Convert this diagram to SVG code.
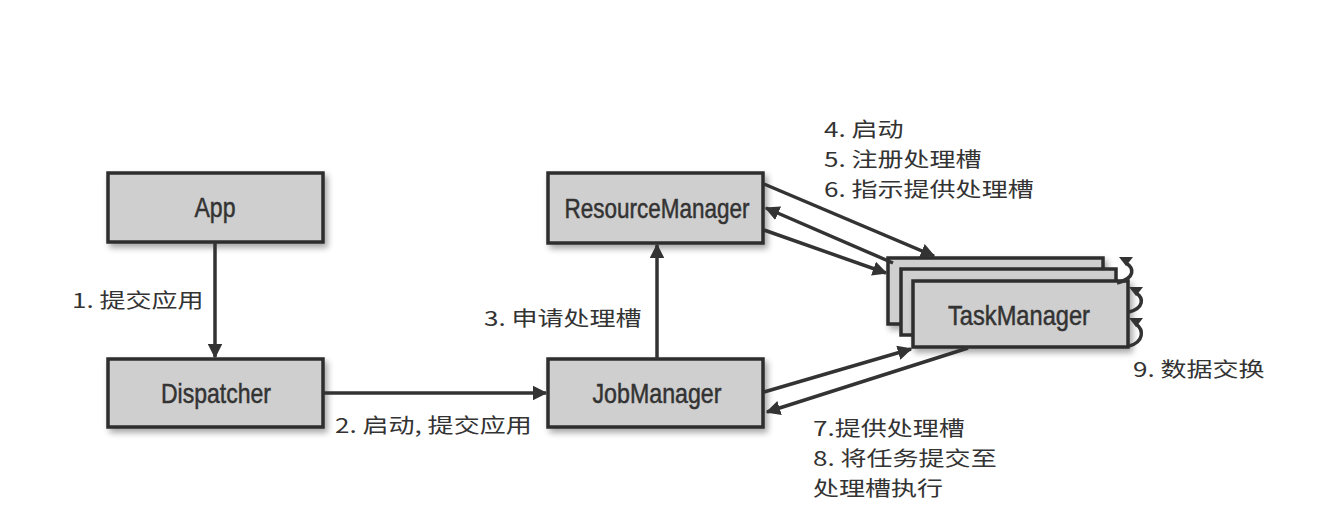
<svg xmlns="http://www.w3.org/2000/svg" width="1338" height="528" viewBox="0 0 1338 528">
<style>
.box{fill:#cfcfcf;stroke:#2e2e2e;stroke-width:3.5}
.nt{font-family:"Liberation Sans",sans-serif;font-size:28px;fill:#333;stroke:#333;stroke-width:0.5;text-anchor:middle}
.lb{font-family:"Noto Sans CJK SC","Noto Sans",sans-serif;font-size:20.5px;fill:#333}
.ln{fill:none;stroke:#333;stroke-width:3.5}
.tri{fill:#333}
</style>
<defs>
<marker id="ah" viewBox="0 0 10 10" refX="9" refY="5" markerWidth="4.2" markerHeight="4.2" orient="auto" markerUnits="strokeWidth">
<path d="M0 0 L10 5 L0 10 Z" fill="#333"/>
</marker>
<filter id="sh" x="-10%" y="-20%" width="125%" height="150%">
<feGaussianBlur in="SourceAlpha" stdDeviation="3"/>
<feOffset dx="3" dy="4" result="b"/>
<feComponentTransfer><feFuncA type="linear" slope="0.35"/></feComponentTransfer>
<feMerge><feMergeNode/><feMergeNode in="SourceGraphic"/></feMerge>
</filter>
</defs>
<rect width="1338" height="528" fill="#ffffff"/>

<g id="app"><rect class="box" x="108" y="173" width="215" height="69" filter="url(#sh)"/><text class="nt" x="215" y="217" textLength="41" lengthAdjust="spacingAndGlyphs">App</text></g>
<g id="dispatcher"><rect class="box" x="108" y="359" width="215" height="68" filter="url(#sh)"/><text class="nt" x="216" y="403" textLength="110" lengthAdjust="spacingAndGlyphs">Dispatcher</text></g>
<g id="resourcemanager"><rect class="box" x="548" y="173" width="215" height="70" filter="url(#sh)"/><text class="nt" x="657" y="218" textLength="185" lengthAdjust="spacingAndGlyphs">ResourceManager</text></g>
<g id="jobmanager"><rect class="box" x="548" y="359" width="215" height="68" filter="url(#sh)"/><text class="nt" x="657" y="403" textLength="129" lengthAdjust="spacingAndGlyphs">JobManager</text></g>
<g id="taskmanager">
<rect class="box" x="888" y="258" width="215" height="66" filter="url(#sh)"/>
<rect class="box" x="901" y="269" width="215" height="66"/>
<rect class="box" x="913" y="281" width="215" height="66" filter="url(#sh)"/>
<text class="nt" x="1019" y="325" textLength="142" lengthAdjust="spacingAndGlyphs">TaskManager</text>
</g>

<g id="connectors">
<line class="ln" x1="215" y1="242" x2="215" y2="357" marker-end="url(#ah)"/>
<line class="ln" x1="323" y1="393" x2="546" y2="393" marker-end="url(#ah)"/>
<line class="ln" x1="657" y1="359" x2="657" y2="245" marker-end="url(#ah)"/>
<line class="ln" x1="764" y1="184" x2="934" y2="256" marker-end="url(#ah)"/>
<line class="ln" x1="893" y1="263" x2="766" y2="208" marker-end="url(#ah)"/>
<line class="ln" x1="764" y1="230" x2="886" y2="273" marker-end="url(#ah)"/>
<line class="ln" x1="764" y1="392" x2="911" y2="349" marker-end="url(#ah)"/>
<line class="ln" x1="968" y1="348" x2="767" y2="412" marker-end="url(#ah)"/>
<path class="ln" stroke-width="2" d="M1126 263 C1134 268 1136 278 1117 283"/>
<path class="tri" d="M1119 257 L1133 257 L1126 266 Z"/>
<path class="ln" stroke-width="2" d="M1136 293 C1144 298 1144 308 1129 312"/>
<path class="tri" d="M1129 287 L1143 287 L1136 296 Z"/>
<path class="ln" stroke-width="2" d="M1136 324 C1144 330 1144 342 1129 346"/>
<path class="tri" d="M1129 318 L1143 318 L1136 327 Z"/>
</g>

<g id="labels">
<text class="lb" transform="translate(72 0) scale(1.27 1)" x="0" y="308">1. 提交应用</text>
<text class="lb" transform="translate(335 0) scale(1.27 1)" x="0" y="433">2. 启动, 提交应用</text>
<text class="lb" transform="translate(484 0) scale(1.27 1)" x="0" y="326">3. 申请处理槽</text>
<text class="lb" transform="translate(824 0) scale(1.27 1)"><tspan x="0" y="137">4. 启动</tspan><tspan x="0" y="167">5. 注册处理槽</tspan><tspan x="0" y="197">6. 指示提供处理槽</tspan></text>
<text class="lb" transform="translate(813 0) scale(1.27 1)"><tspan x="0" y="436">7.提供处理槽</tspan><tspan x="0" y="466">8. 将任务提交至</tspan><tspan x="0" y="496">处理槽执行</tspan></text>
<text class="lb" transform="translate(1133 0) scale(1.27 1)" x="0" y="377">9. 数据交换</text>
</g>
</svg>
